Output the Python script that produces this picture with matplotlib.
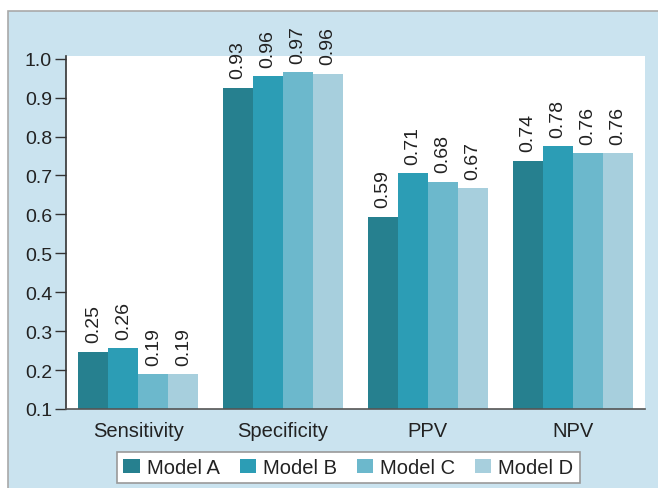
import matplotlib
matplotlib.use("Agg")
import matplotlib.pyplot as plt
from matplotlib.patches import Rectangle
import numpy as np

categories = ["Sensitivity", "Specificity", "PPV", "NPV"]
models = ["Model A", "Model B", "Model C", "Model D"]
model_a = [0.247, 0.926, 0.594, 0.738]
model_b = [0.256, 0.956, 0.706, 0.776]
model_c = [0.190, 0.966, 0.684, 0.757]
model_d = [0.190, 0.962, 0.667, 0.757]
series = [model_a, model_b, model_c, model_d]
colors = ["#26808f", "#2c9db5", "#6cb8cc", "#a7cfdd"]

plt.rcParams["font.family"] = ["Liberation Sans", "DejaVu Sans"]

W, H = 658, 489
fig = plt.figure(figsize=(W / 100, H / 100), dpi=100)
fig.patch.set_facecolor("white")

# light blue panel behind the chart
panel = Rectangle((8 / W, -0.05), 1.1, 1 - 12 / H + 0.05, transform=fig.transFigure,
                  facecolor="#cae3ef", edgecolor="#a9a9a9", linewidth=1.2, zorder=-5)
fig.patches.append(panel)

ax = fig.add_axes([66 / W, 1 - 410 / H, (645 - 66) / W, (410 - 57) / H])
ax.set_facecolor("white")
ax.set_zorder(1)

x = np.arange(len(categories))
bw = 0.207
for i, (vals, col, name) in enumerate(zip(series, colors, models)):
    pos = x + (i - 1.5) * bw
    ax.bar(pos, np.array(vals) - 0.1, bw, bottom=0.1, color=col, label=name,
           edgecolor="none")
    for p, v in zip(pos, vals):
        ax.text(p, v + 0.024, f"{v:.2f}", rotation=90, ha="center", va="bottom",
                fontsize=14, color="#222222")

ax.set_xlim(-0.5, 3.5)
ax.set_ylim(0.1, 1.007)
ticks = np.arange(0.1, 1.01, 0.1)
ax.set_yticks(ticks)
ax.set_yticklabels([f"{t:.1f}" for t in ticks])
ax.set_xticks(x)
ax.set_xticklabels(categories)
ax.tick_params(axis="y", direction="out", length=8, width=1, colors="#333333",
               labelsize=14, labelcolor="#222222", pad=2)
ax.tick_params(axis="x", length=0, labelsize=14.5, labelcolor="#222222", pad=9)
for s in ["top", "right"]:
    ax.spines[s].set_visible(False)
ax.spines["left"].set_color("#333333")
ax.spines["bottom"].set_color("#555555")
ax.spines["left"].set_linewidth(1.2)
ax.spines["bottom"].set_linewidth(1.2)

leg = fig.legend(loc="center", bbox_to_anchor=(348.5 / W, 1 - 468.5 / H), ncol=4,
                 frameon=True, fancybox=False, framealpha=1, fontsize=14.5,
                 handlelength=0.8, handleheight=0.7, handletextpad=0.35,
                 columnspacing=1.0, borderpad=0.3)
leg.get_frame().set_edgecolor("#999999")
leg.get_frame().set_linewidth(1.2)
for t in leg.get_texts():
    t.set_color("#222222")

fig.savefig("out.png", dpi=100)
